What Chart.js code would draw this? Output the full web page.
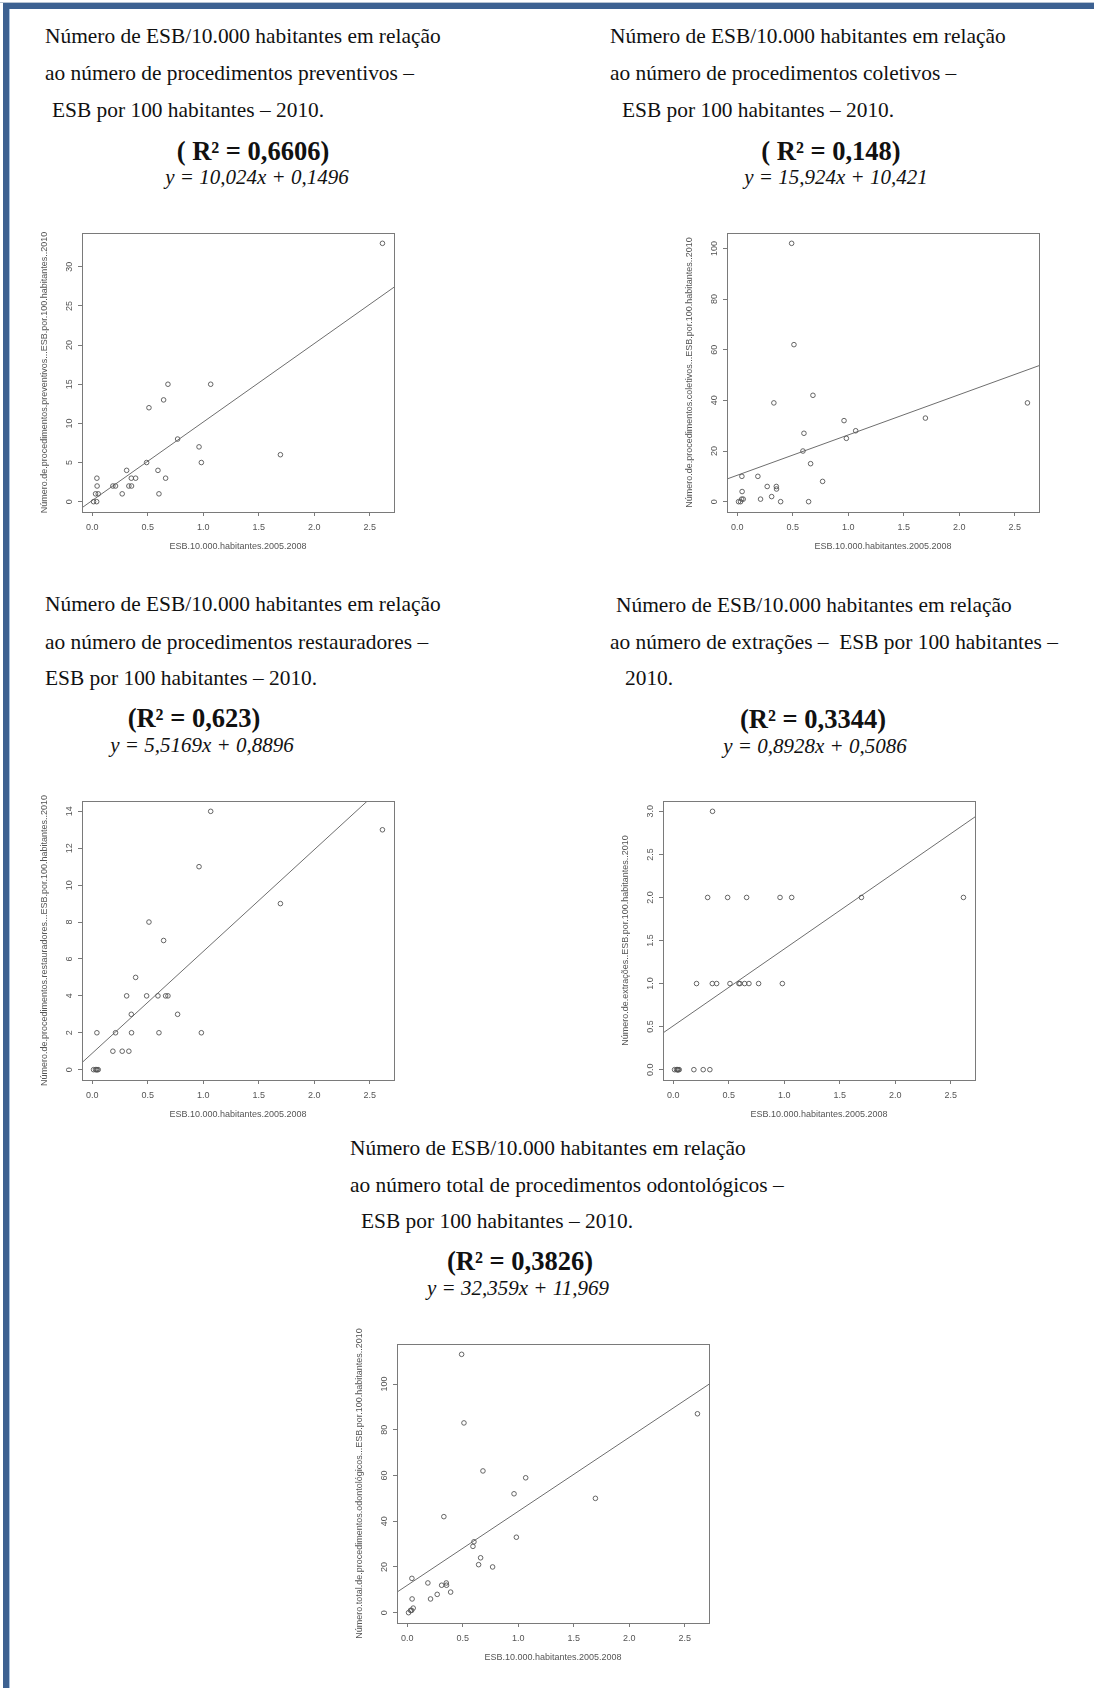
<!DOCTYPE html>
<html>
<head>
<meta charset="utf-8">
<script src="https://cdn.jsdelivr.net/npm/chart.js@4.4.1/dist/chart.umd.min.js"></script>
<style>
  html, body { margin: 0; padding: 0; background: #fff; }
  #page { position: relative; width: 1094px; height: 1688px; overflow: hidden; background: #fff; }
  .bar-top { position: absolute; left: 3px; top: 3px; width: 1091px; height: 6px; background: #3d6191; }
  .line-top { position: absolute; left: 0; top: 2px; width: 1094px; height: 1px; background: #b7c3d2; }
  .bar-left { position: absolute; left: 3px; top: 3px; width: 6px; height: 1685px; background: #3d6191; }
  .line-left { position: absolute; left: 9px; top: 9px; width: 1px; height: 1679px; background: #a9c1dd; }
  .t { position: absolute; font-family: "Liberation Serif", "Times New Roman", serif; color: #111; white-space: pre; }
  .ln { font-size: 21.4px; line-height: 24px; }
  .r2 { font-size: 26.5px; line-height: 30px; font-weight: bold; transform: translateX(-50%); }
  .eq { font-size: 21px; line-height: 24px; font-style: italic; transform: translateX(-50%); }
  canvas { position: absolute; }
</style>
</head>
<body>
<div id="page">
  <div class="line-top"></div>
  <div class="bar-top"></div>
  <div class="bar-left"></div>
  <div class="line-left"></div>
</div>
<script>
// ESB por 10.000 habitantes (2005-2008), um valor por município
const esb = [2.614, 1.695, 1.067, 0.983, 0.962, 0.769, 0.682, 0.661, 0.643, 0.601, 0.592, 0.511, 0.490, 0.391,
             0.352, 0.354, 0.330, 0.310, 0.270, 0.210, 0.186, 0.054, 0.042, 0.044, 0.040, 0.030, 0.012];
// procedimentos por 100 habitantes - 2010
const preventivos   = [33, 6, 15, 5, 7, 8, 15, 3, 13, 1, 4, 12, 5, 3, 3, 2, 2, 4, 1, 2, 2, 1, 3, 2, 0, 1, 0];
const coletivos     = [39, 33, 28, 25, 32, 8, 42, 15, 0, 27, 20, 62, 102, 0, 6, 5, 39, 2, 6, 1, 10, 1, 10, 4, 1, 0, 0];
const restauradores = [13, 9, 14, 2, 11, 3, 4, 4, 7, 2, 4, 8, 4, 5, 3, 2, 1, 4, 1, 2, 1, 0, 2, 0, 0, 0, 0];
const extracoes     = [2, 2, 2, 1, 2, 1, 1, 2, 1, 1, 1, 1, 2, 1, 1, 3, 0, 2, 0, 1, 0, 0, 0, 0, 0, 0, 0];
const totalOdonto   = [87, 50, 59, 33, 52, 20, 62, 24, 21, 31, 29, 83, 113, 9, 13, 12, 42, 12, 8, 6, 13, 2, 15, 6, 1, 1, 0];

// ticks
const xTicks = [0, 0.5, 1, 1.5, 2, 2.5];
const yTicksPrev = [0, 5, 10, 15, 20, 25, 30];
const yTicksColet = [0, 20, 40, 60, 80, 100];
const yTicksRest = [0, 2, 4, 6, 8, 10, 12, 14];
const yTicksExt = [0, 0.5, 1, 1.5, 2, 2.5, 3];
const yTicksTotal = [0, 20, 40, 60, 80, 100];

// retas de regressao (coeficientes do texto)
const slopes = [10.024, 15.924, 5.5169, 0.8928, 32.359];
const intercepts = [0.1496, 10.421, 0.8896, 0.5086, 11.969];

const xTitle = 'ESB.10.000.habitantes.2005.2008';

const page = document.getElementById('page');

function addText(cls, txt, left, cy, lh) {
  const d = document.createElement('div');
  d.className = 't ' + cls;
  d.textContent = txt;
  d.style.left = left + 'px';
  d.style.top = (cy - lh / 2) + 'px';
  page.appendChild(d);
}

// range como o R (estende 4%)
function rRange(vals) {
  const mn = Math.min(...vals), mx = Math.max(...vals);
  const d = (mx - mn) * 0.04;
  return [mn - d, mx + d];
}

const rFrame = {
  id: 'rFrame',
  afterDraw(chart, args, o) {
    const { ctx, chartArea: a, scales: { y } } = chart;
    ctx.save();
    ctx.strokeStyle = '#7a7a7a';
    ctx.lineWidth = 1;
    ctx.strokeRect(Math.round(a.left) + 0.5, Math.round(a.top) + 0.5,
                   Math.round(a.right - a.left), Math.round(a.bottom - a.top));
    ctx.fillStyle = '#555';
    ctx.font = '9px "Liberation Sans", Arial, sans-serif';
    ctx.textAlign = 'center';
    ctx.textBaseline = 'middle';
    y.ticks.forEach(t => {
      ctx.save();
      ctx.translate(a.left - 12, y.getPixelForValue(t.value));
      ctx.rotate(-Math.PI / 2);
      ctx.fillText(o.fmt(t.value), 0, 0);
      ctx.restore();
    });
    ctx.fillText(xTitle, (a.left + a.right) / 2, a.bottom + 35);
    ctx.translate(a.left - 37, (a.top + a.bottom) / 2);
    ctx.rotate(-Math.PI / 2);
    ctx.fillText(o.yTitle, 0, 0);
    ctx.restore();
  }
};

const plots = [
  { y: preventivos, ticks: yTicksPrev, fmt: v => String(v), box: [82, 233],
    yTitle: 'Número.de.procedimentos.preventivos...ESB.por.100.habitantes..2010',
    lines: [[45, 36, 'Número de ESB/10.000 habitantes em relação'],
            [45, 73, 'ao número de procedimentos preventivos –'],
            [52, 110, 'ESB por 100 habitantes – 2010.']],
    r2: [253, 151, '( R² = 0,6606)'], eq: [257, 177, 'y = 10,024x + 0,1496'] },
  { y: coletivos, ticks: yTicksColet, fmt: v => String(v), box: [727, 233],
    yTitle: 'Número.de.procedimentos.coletivos...ESB.por.100.habitantes..2010',
    lines: [[610, 36, 'Número de ESB/10.000 habitantes em relação'],
            [610, 73, 'ao número de procedimentos coletivos –'],
            [622, 110, 'ESB por 100 habitantes – 2010.']],
    r2: [831, 151, '( R² = 0,148)'], eq: [836, 177, 'y = 15,924x + 10,421'] },
  { y: restauradores, ticks: yTicksRest, fmt: v => String(v), box: [82, 801],
    yTitle: 'Número.de.procedimentos.restauradores...ESB.por.100.habitantes..2010',
    lines: [[45, 604, 'Número de ESB/10.000 habitantes em relação'],
            [45, 642, 'ao número de procedimentos restauradores –'],
            [45, 678, 'ESB por 100 habitantes – 2010.']],
    r2: [194, 718, '(R² = 0,623)'], eq: [202, 745, 'y = 5,5169x + 0,8896'] },
  { y: extracoes, ticks: yTicksExt, fmt: v => v.toFixed(1), box: [663, 801],
    yTitle: 'Número.de.extrações..ESB.por.100.habitantes..2010',
    lines: [[616, 605, 'Número de ESB/10.000 habitantes em relação'],
            [610, 642, 'ao número de extrações –  ESB por 100 habitantes –'],
            [625, 678, '2010.']],
    r2: [813, 719, '(R² = 0,3344)'], eq: [815, 746, 'y = 0,8928x + 0,5086'] },
  { y: totalOdonto, ticks: yTicksTotal, fmt: v => String(v), box: [397, 1344],
    yTitle: 'Número.total.de.procedimentos.odontológicos...ESB.por.100.habitantes..2010',
    lines: [[350, 1148, 'Número de ESB/10.000 habitantes em relação'],
            [350, 1185, 'ao número total de procedimentos odontológicos –'],
            [361, 1221, 'ESB por 100 habitantes – 2010.']],
    r2: [520, 1261, '(R² = 0,3826)'], eq: [518, 1288, 'y = 32,359x + 11,969'] }
];

const W = 312, H = 279, PADL = 55, PADT = 30, PADR = 8, PADB = 46;
const [xMin, xMax] = rRange(esb);

plots.forEach((p, i) => {
  p.lines.forEach(l => addText('ln', l[2], l[0], l[1], 24));
  addText('r2', p.r2[2], p.r2[0], p.r2[1], 30);
  addText('eq', p.eq[2], p.eq[0], p.eq[1], 24);

  const cv = document.createElement('canvas');
  cv.width = W + PADL + PADR;
  cv.height = H + PADT + PADB;
  cv.style.left = (p.box[0] - PADL) + 'px';
  cv.style.top = (p.box[1] - PADT) + 'px';
  page.appendChild(cv);

  const [yMin, yMax] = rRange(p.y);
  const pts = esb.map((x, k) => ({ x: x, y: p.y[k] }));
  const reg = [xMin, xMax].map(x => ({ x: x, y: slopes[i] * x + intercepts[i] }));

  new Chart(cv.getContext('2d'), {
    type: 'scatter',
    data: {
      datasets: [
        { data: pts, pointStyle: 'circle', pointRadius: 2.3, pointBorderWidth: 0.9,
          borderColor: '#555', backgroundColor: 'rgba(0,0,0,0)' },
        { data: reg, showLine: true, pointRadius: 0, borderColor: '#6e6e6e', borderWidth: 1 }
      ]
    },
    plugins: [rFrame],
    options: {
      responsive: false,
      animation: false,
      devicePixelRatio: 1,
      layout: { padding: { top: PADT, right: PADR, left: 0, bottom: 0 } },
      plugins: {
        legend: { display: false },
        tooltip: { enabled: false },
        rFrame: { yTitle: p.yTitle, fmt: p.fmt }
      },
      scales: {
        x: {
          type: 'linear', min: xMin, max: xMax,
          afterBuildTicks: s => { s.ticks = xTicks.map(v => ({ value: v })); },
          afterFit: s => { s.height = PADB; },
          ticks: { autoSkip: false, maxRotation: 0, padding: 6, color: '#555',
                   font: { family: '"Liberation Sans", Arial, sans-serif', size: 9 },
                   callback: v => v.toFixed(1) },
          grid: { drawOnChartArea: false, drawTicks: true, tickLength: 4, color: '#7a7a7a' },
          border: { display: false }
        },
        y: {
          type: 'linear', min: yMin, max: yMax,
          afterBuildTicks: s => { s.ticks = p.ticks.map(v => ({ value: v })); },
          afterFit: s => { s.width = PADL; },
          ticks: { display: false },
          grid: { drawOnChartArea: false, drawTicks: true, tickLength: 4, color: '#7a7a7a' },
          border: { display: false }
        }
      }
    }
  });
});
</script>
</body>
</html>
